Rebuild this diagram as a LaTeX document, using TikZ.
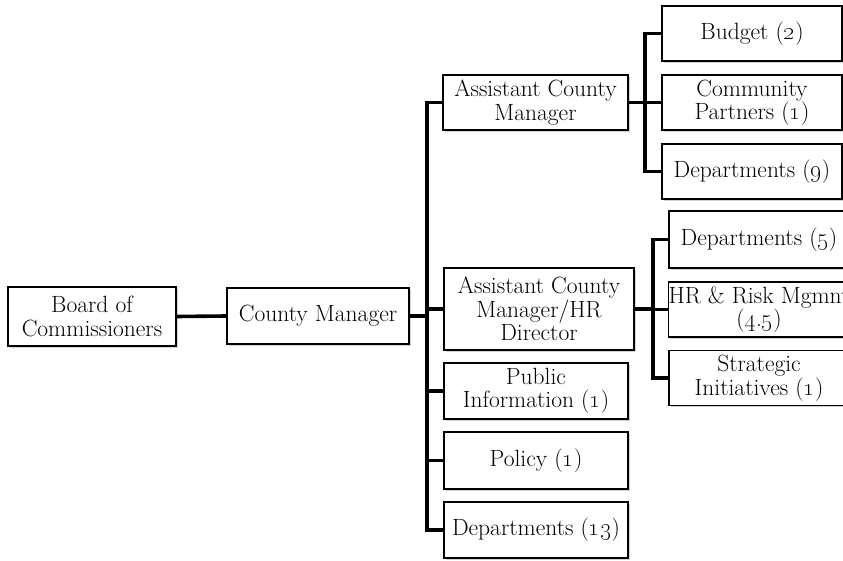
\documentclass[tikz,border=0pt]{standalone}
\usetikzlibrary{shadows}
\newcommand\osn[1]{\oldstylenums{#1}}
\tikzset{
  box/.style={draw=black, line width=1.6pt, fill=white, align=center,
    font=\fontsize{23.5}{23.5}\selectfont, inner sep=0pt,
    drop shadow={shadow xshift=1.8pt, shadow yshift=-1.8pt, opacity=0.35}},
  conn/.style={draw=black, line width=3.6pt, line join=miter}
}
\begin{document}
\begin{tikzpicture}[x=1pt, y=-1pt]
\useasboundingbox (0,0) rectangle (843,561);
\clip (0,0) rectangle (843,561);
% nodes
\node[box, minimum width=168pt, minimum height=59pt] (board) at (92,316.5) {Board of\\Commissioners};
\node[box, minimum width=182pt, minimum height=56pt] (cm) at (318,316) {County Manager};
\node[box, minimum width=185pt, minimum height=55pt] (acm) at (535.5,102.5) {Assistant County\\Manager};
\node[box, minimum width=190pt, minimum height=82pt] (acmhr) at (539,309) {Assistant County\\Manager/HR\\Director};
\node[box, minimum width=184pt, minimum height=56pt] (pub) at (536,391) {Public\\Information (\osn{1})};
\node[box, minimum width=184pt, minimum height=57pt] (pol) at (536,460.5) {Policy (\osn{1})};
\node[box, minimum width=184pt, minimum height=56pt] (dep13) at (536,530) {Departments (\osn{13})};
\node[box, minimum width=180pt, minimum height=55pt] (budget) at (752,33.5) {Budget (\osn{2})};
\node[box, minimum width=180pt, minimum height=55pt] (comm) at (752,102.5) {Community\\Partners (\osn{1})};
\node[box, minimum width=180pt, minimum height=55pt] (dep9) at (752,171.5) {Departments (\osn{9})};
\node[box, minimum width=180pt, minimum height=57pt] (dep5) at (759,239.5) {Departments (\osn{5})};
\node[box, minimum width=180pt, minimum height=55pt] (hr) at (759,309.5) {HR \& Risk Mgmnt\\(\osn{4}.\osn{5})};
\node[box, minimum width=180pt, minimum height=55pt] (strat) at (759,378) {Strategic\\Initiatives (\osn{1})};
% junction coordinates
\coordinate (t) at (427,316);
\coordinate (ta) at (645,102.5);
\coordinate (tb) at (653,309);
% connectors
\draw[conn] (board.east) -- (cm.west);
\draw[conn] (cm.east) -- (t);
\draw[conn] (t) |- (acm.west);
\draw[conn] (t) |- (acmhr.west);
\draw[conn] (t) |- (pub.west);
\draw[conn] (t) |- (pol.west);
\draw[conn] (t) |- (dep13.west);
\draw[conn] (acm.east) -- (ta);
\draw[conn] (ta) |- (budget.west);
\draw[conn] (ta) |- (comm.west);
\draw[conn] (ta) |- (dep9.west);
\draw[conn] (acmhr.east) -- (tb);
\draw[conn] (tb) |- (dep5.west);
\draw[conn] (tb) |- (hr.west);
\draw[conn] (tb) |- (strat.west);
\end{tikzpicture}
\end{document}
